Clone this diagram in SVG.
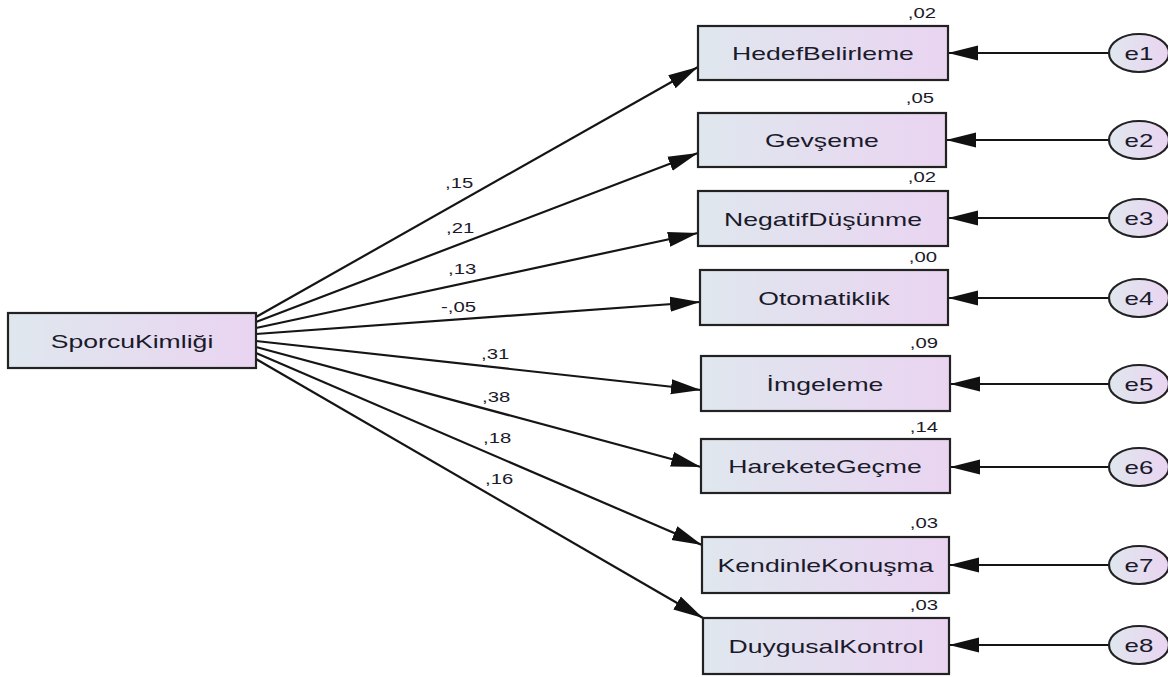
<svg xmlns="http://www.w3.org/2000/svg" width="1168" height="677" viewBox="0 0 1168 677">
<defs>
<linearGradient id="g" x1="0" y1="0" x2="1" y2="0">
<stop offset="0" stop-color="#dfe7ee"/>
<stop offset="1" stop-color="#ead4f1"/>
</linearGradient>
<marker id="ah" markerUnits="userSpaceOnUse" markerWidth="30" markerHeight="16" viewBox="0 0 28 14" refX="28" refY="7" orient="auto">
<path d="M0,0 L28,7 L0,14 z" fill="#111"/>
</marker>
<style>
.box{fill:url(#g);stroke:#222;stroke-width:2.2}
.ell{fill:url(#g);stroke:#222;stroke-width:2.2}
.lbl{font-family:"Liberation Sans",Arial,sans-serif;font-size:19px;fill:#1a1a2a;text-anchor:middle}
.elbl{font-family:"Liberation Sans",Arial,sans-serif;font-size:18.5px;fill:#1a1a2a;text-anchor:middle}
.num{font-family:"Liberation Sans",Arial,sans-serif;font-size:14.5px;fill:#1a1a2a}
.r2{text-anchor:end}
.ln{stroke:#151515;stroke-width:2.2;fill:none;marker-end:url(#ah)}
</style>
</defs>
<rect width="1168" height="677" fill="#ffffff"/>
<g id="connectors">
<line class="ln" x1="256" y1="317" x2="698" y2="67"/>
<line class="ln" x1="256" y1="322" x2="698" y2="153"/>
<line class="ln" x1="256" y1="328" x2="698" y2="233"/>
<line class="ln" x1="256" y1="334" x2="700" y2="302"/>
<line class="ln" x1="256" y1="341" x2="701" y2="390"/>
<line class="ln" x1="256" y1="347" x2="701" y2="467"/>
<line class="ln" x1="256" y1="353" x2="702" y2="545"/>
<line class="ln" x1="256" y1="359" x2="703" y2="618"/>
<line class="ln" x1="1109" y1="53" x2="948" y2="53"/>
<line class="ln" x1="1109" y1="140" x2="946" y2="140"/>
<line class="ln" x1="1109" y1="218" x2="948" y2="218"/>
<line class="ln" x1="1109" y1="298" x2="948" y2="298"/>
<line class="ln" x1="1109" y1="384" x2="950" y2="384"/>
<line class="ln" x1="1109" y1="467" x2="950" y2="467"/>
<line class="ln" x1="1109" y1="565" x2="949" y2="565"/>
<line class="ln" x1="1109" y1="645" x2="949" y2="645"/>
<text class="num" transform="translate(445,188) scale(1.4,1)">,15</text>
<text class="num" transform="translate(446,233) scale(1.4,1)">,21</text>
<text class="num" transform="translate(448,274) scale(1.4,1)">,13</text>
<text class="num" transform="translate(441,312) scale(1.4,1)">-,05</text>
<text class="num" transform="translate(481,359) scale(1.4,1)">,31</text>
<text class="num" transform="translate(482,402) scale(1.4,1)">,38</text>
<text class="num" transform="translate(483,443) scale(1.4,1)">,18</text>
<text class="num" transform="translate(485,484) scale(1.4,1)">,16</text>
</g>
<g id="SporcuKimligi">
<rect class="box" x="8" y="313" width="248" height="55"/>
<text class="lbl" transform="translate(132,347.5) scale(1.4,1)">SporcuKimliği</text>
</g>
<g id="HedefBelirleme">
<rect class="box" x="698" y="26" width="250" height="54"/>
<text class="lbl" transform="translate(823,60) scale(1.4,1)">HedefBelirleme</text>
<text class="num r2" transform="translate(936,18) scale(1.4,1)">,02</text>
</g>
<g id="Gevseme">
<rect class="box" x="698" y="113" width="248" height="54"/>
<text class="lbl" transform="translate(822,147) scale(1.4,1)">Gevşeme</text>
<text class="num r2" transform="translate(934,103) scale(1.4,1)">,05</text>
</g>
<g id="NegatifDusunme">
<rect class="box" x="698" y="191" width="250" height="55"/>
<text class="lbl" transform="translate(823,225.5) scale(1.4,1)">NegatifDüşünme</text>
<text class="num r2" transform="translate(936,182) scale(1.4,1)">,02</text>
</g>
<g id="Otomatiklik">
<rect class="box" x="700" y="270" width="248" height="55"/>
<text class="lbl" transform="translate(824,304.5) scale(1.4,1)">Otomatiklik</text>
<text class="num r2" transform="translate(937,262) scale(1.4,1)">,00</text>
</g>
<g id="Imgeleme">
<rect class="box" x="701" y="356" width="249" height="55"/>
<text class="lbl" transform="translate(825,390.5) scale(1.4,1)">İmgeleme</text>
<text class="num r2" transform="translate(938,348) scale(1.4,1)">,09</text>
</g>
<g id="HareketeGecme">
<rect class="box" x="701" y="439" width="249" height="54"/>
<text class="lbl" transform="translate(825,473) scale(1.4,1)">HareketeGeçme</text>
<text class="num r2" transform="translate(938,432) scale(1.4,1)">,14</text>
</g>
<g id="KendinleKonusma">
<rect class="box" x="702" y="537" width="247" height="56"/>
<text class="lbl" transform="translate(825.5,572) scale(1.4,1)">KendinleKonuşma</text>
<text class="num r2" transform="translate(938,528) scale(1.4,1)">,03</text>
</g>
<g id="DuygusalKontrol">
<rect class="box" x="703" y="618" width="246" height="56"/>
<text class="lbl" transform="translate(826,653) scale(1.4,1)">DuygusalKontrol</text>
<text class="num r2" transform="translate(938,610) scale(1.4,1)">,03</text>
</g>
<g id="e1"><ellipse class="ell" cx="1139" cy="53" rx="30" ry="19"/><text class="elbl" transform="translate(1139,59.5) scale(1.4,1)">e1</text></g>
<g id="e2"><ellipse class="ell" cx="1139" cy="140" rx="30" ry="19"/><text class="elbl" transform="translate(1139,146.5) scale(1.4,1)">e2</text></g>
<g id="e3"><ellipse class="ell" cx="1139" cy="218" rx="30" ry="19"/><text class="elbl" transform="translate(1139,224.5) scale(1.4,1)">e3</text></g>
<g id="e4"><ellipse class="ell" cx="1139" cy="298" rx="30" ry="19"/><text class="elbl" transform="translate(1139,304.5) scale(1.4,1)">e4</text></g>
<g id="e5"><ellipse class="ell" cx="1139" cy="384" rx="30" ry="19"/><text class="elbl" transform="translate(1139,390.5) scale(1.4,1)">e5</text></g>
<g id="e6"><ellipse class="ell" cx="1139" cy="467" rx="30" ry="19"/><text class="elbl" transform="translate(1139,473.5) scale(1.4,1)">e6</text></g>
<g id="e7"><ellipse class="ell" cx="1139" cy="565" rx="30" ry="19"/><text class="elbl" transform="translate(1139,571.5) scale(1.4,1)">e7</text></g>
<g id="e8"><ellipse class="ell" cx="1139" cy="645" rx="30" ry="19"/><text class="elbl" transform="translate(1139,651.5) scale(1.4,1)">e8</text></g>
</svg>
